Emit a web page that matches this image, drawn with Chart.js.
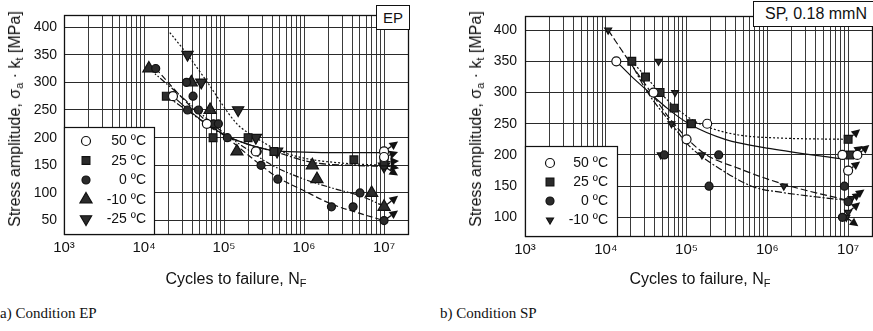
<!DOCTYPE html>
<html><head><meta charset="utf-8">
<script src="https://cdn.jsdelivr.net/npm/chart.js@4.4.1/dist/chart.umd.min.js"></script>
<style>
html,body{margin:0;padding:0;background:#fff;}
body{width:873px;height:331px;overflow:hidden;position:relative;font-family:"Liberation Sans",Arial,sans-serif;color:#111;}
canvas{position:absolute;top:0;}
.lbl{position:absolute;white-space:nowrap;font-size:16px;line-height:16px;}
.ytitle{transform:translate(-50%,-50%) rotate(-90deg);}
.xtitle{transform:translate(-50%,-50%);}
.box{position:absolute;background:#fff;border:1px solid #111;box-sizing:border-box;white-space:nowrap;}
.cap{position:absolute;font-family:"Liberation Serif","Times New Roman",serif;font-size:15px;line-height:15px;top:306px;white-space:nowrap;}
sub{font-size:11px;vertical-align:-3px;line-height:0;}
</style></head><body>
<canvas id="ep" width="440" height="300" style="left:0"></canvas>
<canvas id="sp" width="440" height="300" style="left:440px"></canvas>
<div class="lbl ytitle" style="left:15px;top:119px">Stress amplitude, σ<sub>a</sub> · k<sub>t</sub> [MPa]</div>
<div class="lbl ytitle" style="left:476px;top:119px">Stress amplitude, σ<sub>a</sub> · k<sub>t</sub> [MPa]</div>
<div class="lbl xtitle" style="left:236px;top:279px">Cycles to failure, N<sub>F</sub></div>
<div class="lbl xtitle" style="left:700px;top:279px">Cycles to failure, N<sub>F</sub></div>
<div class="box" style="left:376px;top:5px;width:34px;height:25px;font-size:15px;line-height:23px;text-align:center;">EP</div>
<div class="box" style="left:753px;top:1px;width:130px;height:26px;font-size:16px;line-height:24px;padding-left:11px;">SP, 0.18 mmN</div>
<div class="cap" style="left:0">a) Condition EP</div>
<div class="cap" style="left:440px">b) Condition SP</div>
<script>
// ---------------- tick definitions ----------------
const X_TICK_VALUES = [1e3, 1e4, 1e5, 1e6, 1e7];
const X_TICK_LABELS = ['10³', '10⁴', '10⁵', '10⁶', '10⁷'];
const Y_TICKS_EP = [50, 100, 150, 200, 250, 300, 350, 400];
const Y_TICKS_SP = [100, 150, 200, 250, 300, 350, 400];
const LEGEND_EP = ['50 ºC', '25 ºC', '0 ºC', '-10 ºC', '-25 ºC'];
const LEGEND_SP = ['50 ºC', '25 ºC', '0 ºC', '-10 ºC'];

// ---------------- EP: failures (N = cycles, S = stress MPa) ----------------
const EP_50_N = [2.3e4, 6.1e4, 2.5e5];
const EP_50_S = [275, 225, 175];
const EP_25_N = [1.9e4, 7.3e4, 2.0e5, 4.2e5, 4.2e6];
const EP_25_S = [275, 200, 200, 175, 160];
const EP_0_N  = [1.4e4, 3.4e4, 4.1e4, 3.5e4, 4.8e4, 7.4e4, 8.5e4, 1.1e5, 2.6e5, 2.9e5, 4.7e5, 2.2e6, 4.1e6, 5.0e6];
const EP_0_S  = [325, 300, 275, 250, 250, 225, 225, 200, 175, 150, 125, 75, 75, 100];
const EP_M10_N = [1.15e4, 3.9e4, 6.7e4, 1.45e5, 1.27e6, 1.45e6, 7.0e6];
const EP_M10_S = [325, 300, 250, 175, 150, 125, 100];
const EP_M25_N = [3.5e4, 5.2e4, 1.5e5, 2.5e5, 4.6e5];
const EP_M25_S = [350, 300, 250, 200, 175];
// EP run-outs
const EP_50_RO_N = [1e7, 1e7];      const EP_50_RO_S = [175, 165];
const EP_25_RO_N = [1e7];           const EP_25_RO_S = [156];
const EP_0_RO_N  = [1e7, 1e7];      const EP_0_RO_S  = [150, 50];
const EP_M10_RO_N = [1e7];          const EP_M10_RO_S = [75];
const EP_M25_RO_N = [1e7];          const EP_M25_RO_S = [148];
// EP fitted curves
const EP_FIT_50_N = [2.3e4, 3.8e4, 6.5e4, 1.2e5, 2.2e5, 4e5, 1e6, 3e6, 1e7];
const EP_FIT_50_S = [275, 247, 222, 200, 186, 177, 174, 173, 173];
const EP_FIT_25_N = [1.9e4, 4e4, 8e4, 2e5, 4.2e5, 1.3e6, 4e6, 1e7];
const EP_FIT_25_S = [275, 243, 212, 188, 175, 155, 150, 148];
const EP_FIT_0_N  = [1.4e4, 3e4, 6e4, 1.2e5, 2.9e5, 4.7e5, 1e6, 2.2e6, 5e6, 1e7];
const EP_FIT_0_S  = [325, 272, 230, 195, 150, 128, 104, 80, 63, 50];
const EP_FIT_M10_N = [1.15e4, 2.5e4, 5e4, 1e5, 2e5, 4e5, 1e6, 2.5e6, 5e6, 1e7];
const EP_FIT_M10_S = [325, 283, 245, 208, 178, 150, 125, 107, 95, 76];
const EP_FIT_M25_N = [2.1e4, 3.5e4, 6e4, 1.45e5, 2.5e5, 4.6e5, 1e6, 3e6, 1e7];
const EP_FIT_M25_S = [390, 350, 303, 225, 200, 178, 163, 154, 150];

// ---------------- SP: failures ----------------
const SP_50_N = [1.35e4, 3.9e4, 1.0e5, 1.8e5, 8.5e6];
const SP_50_S = [350, 300, 225, 250, 200];
const SP_25_N = [2.1e4, 3.1e4, 4.7e4, 7.0e4, 1.15e5];
const SP_25_S = [350, 325, 300, 275, 250];
const SP_0_N  = [5.3e4, 2.5e5, 1.9e5, 9.0e6, 8.5e6];
const SP_0_S  = [200, 200, 150, 150, 100];
const SP_M10_N = [1.07e4, 4.5e4, 7.2e4, 6.5e4, 4.8e4, 1.55e5, 1.6e6];
const SP_M10_S = [400, 350, 300, 250, 200, 200, 150];
// SP run-outs
const SP_50_RO_N = [1.3e7, 1e7];    const SP_50_RO_S = [200, 175];
const SP_25_RO_N = [1e7, 1.05e7];   const SP_25_RO_S = [225, 200];
const SP_0_RO_N  = [1e7];           const SP_0_RO_S  = [125];
const SP_M10_RO_N = [1.1e7, 1e7, 9.5e6]; const SP_M10_RO_S = [130, 108, 100];
// SP fitted curves
const SP_FIT_50_N = [1.35e4, 2e4, 3.2e4, 6e4, 1.07e5, 3e5, 1.1e6, 9e6];
const SP_FIT_50_S = [350, 328, 304, 273, 250, 225, 210, 193];
const SP_FIT_25_N = [2.1e4, 3.1e4, 4.7e4, 7e4, 1.15e5, 1.8e5, 4.4e5, 1.5e6, 1e7];
const SP_FIT_25_S = [350, 326, 300, 278, 257, 245, 232, 227, 225];
const SP_FIT_0_N  = [2.2e4, 3.3e4, 6.5e4, 1.07e5, 2.8e5, 7e5, 1.5e6, 3.9e6, 1e7];
const SP_FIT_0_S  = [340, 300, 250, 215, 175, 148, 140, 133, 127];
const SP_FIT_M10_N = [1.07e4, 2e4, 3.5e4, 6.5e4, 1.55e5, 4.5e5, 1.7e6, 1e7];
const SP_FIT_M10_S = [400, 348, 303, 255, 205, 178, 152, 127];

// ---------------- helpers ----------------
const FONT = '"Liberation Sans", Arial, sans-serif';
const INK = '#111';
const FILL = '#2b2b2b';
const pts = (N, S) => N.map((n, i) => ({x: n, y: S[i]}));

const ST = {
  ep50:  {pointStyle: 'circle', radius: 4.5, rot: 0, bg: '#fff'},
  ep25:  {pointStyle: 'rect', radius: 5.5, rot: 0, bg: FILL},
  ep0:   {pointStyle: 'circle', radius: 4, rot: 0, bg: FILL},
  epM10: {pointStyle: 'triangle', radius: 7, rot: 0, bg: FILL},
  epM25: {pointStyle: 'triangle', radius: 6.5, rot: 180, bg: FILL},
  sp50:  {pointStyle: 'circle', radius: 4.5, rot: 0, bg: '#fff'},
  sp25:  {pointStyle: 'rect', radius: 5.5, rot: 0, bg: FILL},
  sp0:   {pointStyle: 'circle', radius: 4, rot: 0, bg: FILL},
  spM10: {pointStyle: 'triangle', radius: 4, rot: 180, bg: FILL}
};

function markerDS(label, N, S, st, legend, arrows) {
  return {
    label, data: pts(N, S), pointStyle: st.pointStyle, pointRadius: st.radius,
    pointRotation: st.rot, backgroundColor: st.bg, borderColor: INK,
    pointBackgroundColor: st.bg, pointBorderColor: INK,
    borderWidth: 1.2, pointBorderWidth: 1.2, showLine: false, order: 1,
    inLegend: legend, arrows: arrows || null
  };
}
function fitDS(N, S, dash) {
  return {
    label: '', data: pts(N, S), showLine: true, pointRadius: 0, borderColor: INK,
    borderWidth: 1.2, borderDash: dash, cubicInterpolationMode: 'monotone',
    fill: false, order: 3
  };
}

// ---------------- plugins ----------------
const framePlugin = {
  id: 'frame',
  beforeDatasetsDraw(chart) {
    const a = chart.chartArea, ctx = chart.ctx;
    ctx.save(); ctx.strokeStyle = INK; ctx.lineWidth = 1.3;
    ctx.strokeRect(Math.round(a.left) + 0.5, Math.round(a.top) + 0.5,
      Math.round(a.right - a.left) - 1, Math.round(a.bottom - a.top) - 1);
    ctx.restore();
  }
};
const arrowPlugin = {
  id: 'arrows',
  beforeDatasetsDraw(chart) {
    const ctx = chart.ctx;
    ctx.save();
    chart.data.datasets.forEach((ds, i) => {
      if (!ds.arrows) return;
      const meta = chart.getDatasetMeta(i);
      meta.data.forEach((el, j) => {
        const d = ds.arrows[j]; if (!d) return;
        const x0 = el.x, y0 = el.y, x1 = x0 + d[0], y1 = y0 + d[1];
        const L = Math.hypot(d[0], d[1]), ux = d[0] / L, uy = d[1] / L;
        const hl = 8.5, hw = 4.3;
        const bx = x1 - ux * hl, by = y1 - uy * hl;
        ctx.strokeStyle = INK; ctx.fillStyle = INK; ctx.lineWidth = 1.3;
        ctx.beginPath(); ctx.moveTo(x0, y0); ctx.lineTo(bx, by); ctx.stroke();
        ctx.beginPath(); ctx.moveTo(x1, y1);
        ctx.lineTo(bx - uy * hw, by + ux * hw);
        ctx.lineTo(bx + uy * hw, by - ux * hw);
        ctx.closePath(); ctx.fill();
      });
    });
    ctx.restore();
  }
};
function drawMarker(ctx, st, x, y) {
  ctx.save();
  ctx.fillStyle = st.bg; ctx.strokeStyle = INK; ctx.lineWidth = 1.2;
  ctx.beginPath();
  const r = st.radius;
  if (st.pointStyle === 'circle') {
    ctx.arc(x, y, r, 0, Math.PI * 2);
  } else if (st.pointStyle === 'rect') {
    const s = r * Math.SQRT1_2; ctx.rect(x - s, y - s, 2 * s, 2 * s);
  } else {
    const sgn = st.rot === 180 ? -1 : 1;
    for (let k = 0; k < 3; k++) {
      const ang = k * 2 * Math.PI / 3;
      const px = x + Math.sin(ang) * r * sgn, py = y - Math.cos(ang) * r * sgn;
      k ? ctx.lineTo(px, py) : ctx.moveTo(px, py);
    }
    ctx.closePath();
  }
  ctx.fill(); ctx.stroke();
  ctx.restore();
}
const insetLegend = {
  id: 'insetLegend',
  afterDraw(chart, args, o) {
    if (!o || !o.w) return;
    const a = chart.chartArea, ctx = chart.ctx;
    const left = Math.round(a.left), bottom = Math.round(a.bottom);
    const top = bottom - o.h;
    ctx.save();
    ctx.fillStyle = '#fff'; ctx.fillRect(left, top, o.w, o.h);
    ctx.strokeStyle = INK; ctx.lineWidth = 1.2;
    ctx.strokeRect(left + 0.5, top + 0.5, o.w, o.h - 1);
    const items = chart.data.datasets.filter(d => d.inLegend);
    ctx.font = '14px ' + FONT; ctx.fillStyle = INK;
    ctx.textAlign = 'right'; ctx.textBaseline = 'middle';
    items.forEach((d, k) => {
      const y = top + o.first + k * o.step;
      drawMarker(ctx, d.styleRef, left + o.mx, y);
      ctx.fillStyle = INK;
      ctx.fillText(o.labels[k], left + o.tx, y + 0.5);
    });
    ctx.restore();
  }
};

function makeOptions(c) {
  return {
    responsive: false, animation: false, devicePixelRatio: 1,
    layout: {padding: {left: 0, right: c.padR, top: c.padT, bottom: 0}},
    plugins: {legend: {display: false}, tooltip: {enabled: false}, insetLegend: c.legend},
    scales: {
      x: {
        type: 'logarithmic', min: 1e3, max: 2.05e7,
        afterBuildTicks: s => {
          const t = [];
          X_TICK_VALUES.forEach(d => { for (let m = 1; m <= 9; m++) if (d * m <= 2.05e7) t.push({value: d * m}); });
          t.push({value: 2e7});
          s.ticks = t;
        },
        afterFit: s => { s.height = c.xH; },
        ticks: {
          autoSkip: false, maxRotation: 0, minRotation: 0, padding: 4, color: INK,
          font: {size: 15, family: FONT},
          callback: v => { const i = X_TICK_VALUES.indexOf(v); return i >= 0 ? X_TICK_LABELS[i] : ''; }
        },
        grid: {color: '#3a3a3a', lineWidth: 1, drawTicks: false},
        border: {display: false}
      },
      y: {
        type: 'linear', min: c.yMin, max: c.yMax,
        afterBuildTicks: s => { s.ticks = c.yTicks.map(v => ({value: v})); },
        afterFit: s => { s.width = c.yW; },
        ticks: {padding: c.yPad, color: INK, font: {size: 14, family: FONT}},
        grid: {color: '#2a2a2a', lineWidth: 1, drawTicks: false},
        border: {display: false}
      }
    }
  };
}

function withStyle(ds, st) { ds.styleRef = st; return ds; }

// ---------------- EP chart ----------------
const epData = {datasets: [
  withStyle(markerDS('50 ºC', EP_50_N, EP_50_S, ST.ep50, true), ST.ep50),
  withStyle(markerDS('25 ºC', EP_25_N, EP_25_S, ST.ep25, true), ST.ep25),
  withStyle(markerDS('0 ºC', EP_0_N, EP_0_S, ST.ep0, true), ST.ep0),
  withStyle(markerDS('-10 ºC', EP_M10_N, EP_M10_S, ST.epM10, true), ST.epM10),
  withStyle(markerDS('-25 ºC', EP_M25_N, EP_M25_S, ST.epM25, true), ST.epM25),
  markerDS('', EP_50_RO_N, EP_50_RO_S, ST.ep50, false, [[14, -10], [14, -5]]),
  markerDS('', EP_25_RO_N, EP_25_RO_S, ST.ep25, false, [[15, -1]]),
  markerDS('', EP_0_RO_N, EP_0_RO_S, ST.ep0, false, [[15, 3], [14, -10]]),
  markerDS('', EP_M10_RO_N, EP_M10_RO_S, ST.epM10, false, [[14, -11]]),
  markerDS('', EP_M25_RO_N, EP_M25_RO_S, ST.epM25, false, [[14, 9]]),
  fitDS(EP_FIT_50_N, EP_FIT_50_S, []),
  fitDS(EP_FIT_25_N, EP_FIT_25_S, [7, 2, 2, 2]),
  fitDS(EP_FIT_0_N, EP_FIT_0_S, [6, 3]),
  fitDS(EP_FIT_M10_N, EP_FIT_M10_S, [6, 2, 1.5, 2, 1.5, 2]),
  fitDS(EP_FIT_M25_N, EP_FIT_M25_S, [2, 2])
]};
new Chart(document.getElementById('ep'), {
  type: 'scatter', data: epData,
  options: makeOptions({padR: 31, padT: 5, xH: 65, yW: 64, yPad: 7, yMin: 24, yMax: 421, yTicks: Y_TICKS_EP,
    legend: {w: 90, h: 108, first: 14, step: 19.5, mx: 22, tx: 82, labels: LEGEND_EP}}),
  plugins: [framePlugin, arrowPlugin, insetLegend]
});

// ---------------- SP chart ----------------
const spData = {datasets: [
  withStyle(markerDS('50 ºC', SP_50_N, SP_50_S, ST.sp50, true), ST.sp50),
  withStyle(markerDS('25 ºC', SP_25_N, SP_25_S, ST.sp25, true), ST.sp25),
  withStyle(markerDS('0 ºC', SP_0_N, SP_0_S, ST.sp0, true), ST.sp0),
  withStyle(markerDS('-10 ºC', SP_M10_N, SP_M10_S, ST.spM10, true), ST.spM10),
  markerDS('', SP_50_RO_N, SP_50_RO_S, ST.sp50, false, [[12, -10], [12, -9]]),
  markerDS('', SP_25_RO_N, SP_25_RO_S, ST.sp25, false, [[12, -10], [13, -9]]),
  markerDS('', SP_0_RO_N, SP_0_RO_S, ST.sp0, false, [[13, -9]]),
  markerDS('', SP_M10_RO_N, SP_M10_RO_S, ST.spM10, false, [[13, -9], [12, -10], [12, 9]]),
  fitDS(SP_FIT_50_N, SP_FIT_50_S, []),
  fitDS(SP_FIT_25_N, SP_FIT_25_S, [2, 2]),
  fitDS(SP_FIT_0_N, SP_FIT_0_S, [7, 2, 2, 2]),
  fitDS(SP_FIT_M10_N, SP_FIT_M10_S, [7, 3])
]};
new Chart(document.getElementById('sp'), {
  type: 'scatter', data: spData,
  options: makeOptions({padR: 5, padT: 1, xH: 63, yW: 85, yPad: 8, yMin: 68.5, yMax: 422, yTicks: Y_TICKS_SP,
    legend: {w: 92, h: 91, first: 17, step: 19, mx: 25, tx: 83, labels: LEGEND_SP}}),
  plugins: [framePlugin, arrowPlugin, insetLegend]
});
</script>
</body></html>
